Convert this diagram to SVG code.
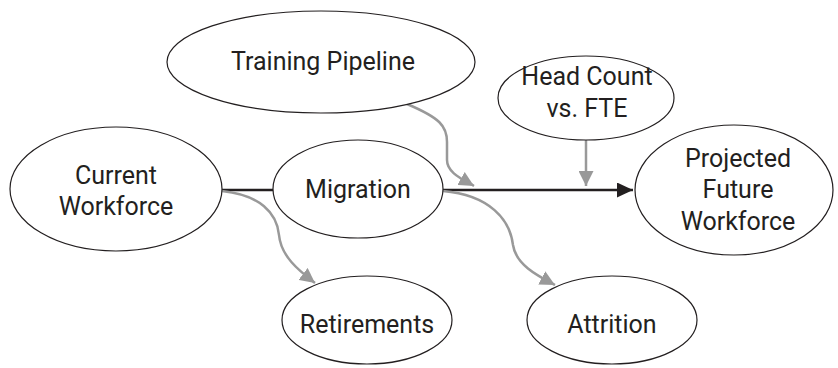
<svg xmlns="http://www.w3.org/2000/svg" width="838" height="368" viewBox="0 0 838 368">
<defs>
<style>
.node ellipse{fill:#fff;stroke:#231f20;stroke-width:1.2}
.node text{font-family:Roboto,"Open Sans",sans-serif;font-size:25px;fill:#231f20;text-anchor:middle}
.main{fill:none;stroke:#231f20;stroke-width:2.5}
.side{fill:none;stroke:#999;stroke-width:2.5}
</style>
<marker id="ab" markerWidth="16" markerHeight="15" refX="16" refY="7.5" orient="auto" markerUnits="userSpaceOnUse"><path d="M0,0 L16,7.5 L0,15 z" fill="#231f20"/></marker>
<marker id="ag" markerWidth="15" markerHeight="15" refX="15" refY="7.5" orient="auto" markerUnits="userSpaceOnUse"><path d="M0,0 L15,7.5 L0,15 z" fill="#999"/></marker>
</defs>
<rect width="838" height="368" fill="#fff"/>
<g id="connectors">
<path class="main" d="M222 190 L273 190"/>
<path class="main" d="M443 190 L633 190" marker-end="url(#ab)"/>
<path class="side" d="M586 140 L586 186" marker-end="url(#ag)"/>
<path class="side" d="M407 104 C440 118 447 126 447 142 L447 160 C447 172 460 178 474 186" marker-end="url(#ag)"/>
<path class="side" d="M222 191 C260 195 277 213 279 235 C281 256 298 270 315 283" marker-end="url(#ag)"/>
<path class="side" d="M443 191 C490 195 510 220 513 245 C516 265 538 276 555 285" marker-end="url(#ag)"/>
</g>
<g id="current" class="node"><ellipse cx="116" cy="189" rx="106" ry="62"/><text x="116" y="184">Current</text><text x="116" y="215">Workforce</text></g>
<g id="migration" class="node"><ellipse cx="358" cy="189" rx="85" ry="49"/><text x="358" y="198">Migration</text></g>
<g id="training" class="node"><ellipse cx="321" cy="62" rx="154" ry="51"/><text x="323" y="70">Training Pipeline</text></g>
<g id="headcount" class="node"><ellipse cx="586" cy="98" rx="88" ry="42"/><text x="587" y="85">Head Count</text><text x="587" y="117">vs. FTE</text></g>
<g id="projected" class="node"><ellipse cx="734" cy="190" rx="99" ry="65"/><text x="738" y="167">Projected</text><text x="738" y="198">Future</text><text x="738" y="230">Workforce</text></g>
<g id="retirements" class="node"><ellipse cx="367" cy="320" rx="85" ry="44"/><text x="367" y="333">Retirements</text></g>
<g id="attrition" class="node"><ellipse cx="612" cy="320" rx="85" ry="44"/><text x="612" y="333">Attrition</text></g>
</svg>
